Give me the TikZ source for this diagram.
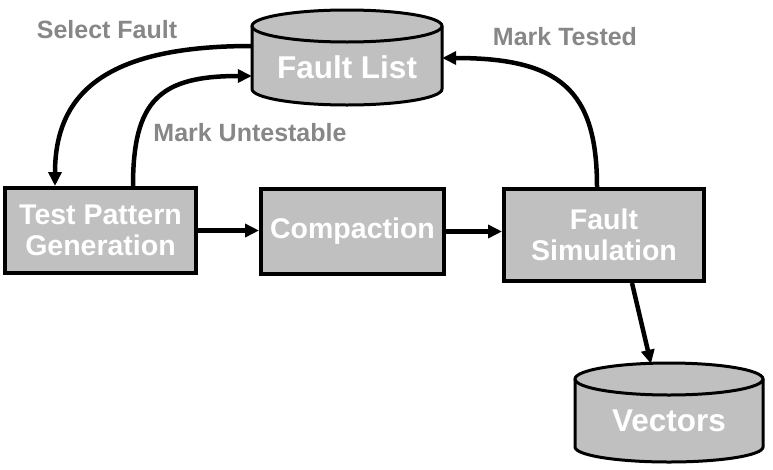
\documentclass[tikz,border=0pt]{standalone}
\usepackage{fontspec}
\setmainfont{Liberation Sans}
\usetikzlibrary{arrows.meta}
\definecolor{boxgray}{RGB}{192,192,192}
\definecolor{lblgray}{RGB}{135,135,135}
\begin{document}
\begin{tikzpicture}[x=1pt,y=1pt,
  stagebox/.style={draw=black, line width=4pt, fill=boxgray, text=white, align=center,
    inner sep=0pt, font=\bfseries\fontsize{28.5}{31}\selectfont},
  cyltext/.style={text=white, inner sep=0pt, font=\bfseries\fontsize{31.5}{33}\selectfont},
  lbl/.style={text=lblgray, inner sep=0pt, font=\bfseries\fontsize{25}{27}\selectfont},
  conn/.style={line width=4.5pt, -{Triangle[length=14pt,width=13pt]}}
]
\useasboundingbox (0,0) rectangle (773,-469);

% Fault List cylinder
\fill[boxgray] (252,-26) -- (252,-89) arc[start angle=180,end angle=360,x radius=95,y radius=16]
  -- (442,-26) arc[start angle=0,end angle=180,x radius=95,y radius=16] -- cycle;
\draw[line width=3pt] (252,-26) -- (252,-89) arc[start angle=180,end angle=360,x radius=95,y radius=16] -- (442,-26);
\draw[line width=3pt] (347,-26) ellipse[x radius=95,y radius=16];
\node[cyltext, minimum width=190, minimum height=50] (fl) at (347,-67) {Fault List};

% Vectors cylinder
\fill[boxgray] (575,-379) -- (575,-447) arc[start angle=180,end angle=360,x radius=94,y radius=15]
  -- (763,-379) arc[start angle=0,end angle=180,x radius=94,y radius=16] -- cycle;
\draw[line width=3pt] (575,-379) -- (575,-447) arc[start angle=180,end angle=360,x radius=94,y radius=15] -- (763,-379);
\draw[line width=3pt] (669,-379) ellipse[x radius=94,y radius=16];
\node[cyltext, minimum width=188, minimum height=52] (vec) at (669,-421) {Vectors};

% Stage boxes
\node[stagebox, minimum width=191, minimum height=85] (tpg) at (100.5,-230.5) {Test Pattern\\Generation};
\node[stagebox, minimum width=183, minimum height=85] (comp) at (352.5,-231.5) {Compaction};
\node[stagebox, minimum width=200, minimum height=92] (fs) at (604,-235) {Fault\\Simulation};

% Horizontal connectors
\draw[conn] (tpg.east) -- (tpg.east -| comp.west);
\draw[conn] (comp.east) -- (comp.east -| fs.west);

% Select Fault
\draw[conn] ([yshift=21]fl.west) .. controls (110,-46) and (55,-90) .. ([xshift=-45.5]tpg.north);
% Mark Untestable
\draw[conn] ([xshift=32.5]tpg.north) .. controls (133,-100) and (160,-76) .. ([yshift=-9]fl.west);
% Mark Tested
\draw[conn] ([xshift=-7]fs.north) .. controls (597,-90) and (560,-58) .. ([yshift=9]fl.east);
% To vectors
\draw[conn] ([xshift=28]fs.south) -- ([xshift=-18,yshift=31]vec.north);

% Labels
\node[lbl] (l1) at (107,-30) {Select Fault};
\node[lbl] (l2) at (250,-133) {Mark Untestable};
\node[lbl] (l3) at (565,-37) {Mark Tested};
\end{tikzpicture}
\end{document}
